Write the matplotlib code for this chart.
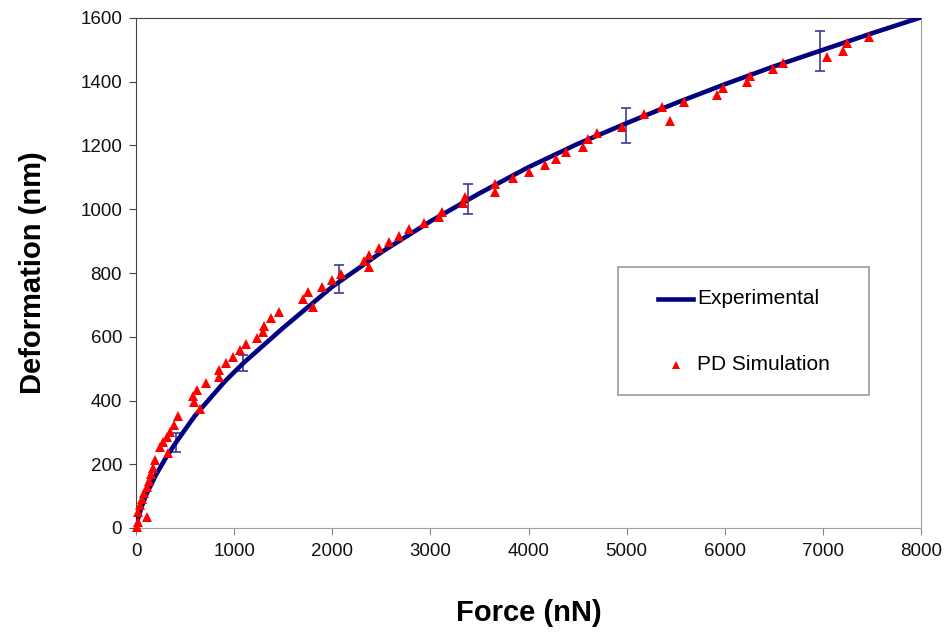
import matplotlib
matplotlib.use('Agg')
import matplotlib.pyplot as plt
from matplotlib.lines import Line2D
from matplotlib.patches import Rectangle

plt.rcParams['font.family'] = ['Liberation Sans', 'DejaVu Sans']

# experimental curve (force nN, deformation nm)
exp_force = [0, 20, 50, 100, 200, 300, 400, 600, 900, 1000, 1100, 1500, 2000,
             2500, 3000, 3500, 4000, 4500, 5000, 5500, 6000, 6500, 7000, 7500, 8000]
exp_def = [0, 28, 60, 102, 165, 218, 265, 352, 458, 489, 519, 628, 757,
           865, 962, 1050, 1132, 1205, 1270, 1333, 1392, 1448, 1500, 1552, 1602]

# error bars on the experimental curve
err_force = [0, 410, 1090, 2072, 3388, 4995, 6972]
err_def = [5, 268, 517, 781, 1031, 1264, 1496]
err_size = [10, 29, 26, 43, 47, 55, 63]

# PD simulation points
pd_force = [10, 17, 17, 109, 41, 61, 85, 109, 129, 153, 170, 197, 248, 278, 313,
            323, 350, 384, 425, 577, 594, 652, 622, 713, 849, 849, 917, 985, 1060,
            1121, 1230, 1291, 1308, 1376, 1457, 1699, 1756, 1800, 1892, 1994, 2086,
            2327, 2378, 2378, 2480, 2578, 2680, 2785, 2938, 3091, 3115, 3329, 3353,
            3658, 3658, 3845, 4008, 4168, 4280, 4382, 4558, 4609, 4695, 4950, 5177,
            5357, 5442, 5584, 5917, 5979, 6223, 6257, 6488, 6597, 7038, 7208, 7249,
            7470]
pd_def = [4, 20, 51, 36, 72, 90, 109, 130, 148, 168, 187, 213, 255, 271, 286,
          234, 302, 323, 351, 414, 396, 373, 433, 456, 475, 496, 517, 537, 558,
          576, 597, 614, 635, 658, 679, 718, 739, 694, 757, 778, 797,
          839, 818, 856, 877, 898, 916, 937, 958, 977, 990, 1019, 1037,
          1055, 1079, 1097, 1118, 1139, 1157, 1179, 1196, 1219, 1238, 1259, 1298,
          1320, 1278, 1337, 1358, 1379, 1398, 1419, 1439, 1458, 1477, 1497, 1520,
          1541]

W, H = 951, 639
fig = plt.figure(figsize=(W / 100, H / 100), dpi=100)
ax = fig.add_axes([136 / W, (H - 528) / H, (921 - 136) / W, (528 - 18) / H])

ax.errorbar(err_force, err_def, yerr=err_size, fmt='none', ecolor='#3b3b9c',
            elinewidth=1.2, capsize=3.5, capthick=1.2, zorder=2)
ax.plot(exp_force, exp_def, color='#000080', lw=3.3, solid_capstyle='butt', zorder=3)
ax.plot(pd_force, pd_def, linestyle='none', marker='^', color='#ff0000',
        markersize=7.5, markeredgewidth=0, zorder=4, clip_on=False)

ax.set_xlim(0, 8000)
ax.set_ylim(0, 1600)
ax.set_xticks(range(0, 8001, 1000))
ax.set_yticks(range(0, 1601, 200))

for s in ['left', 'top']:
    ax.spines[s].set_color('#444444')
for s in ['bottom', 'right']:
    ax.spines[s].set_color('#a0a0a0')
ax.tick_params(axis='x', direction='out', length=5, color='#888888',
               labelsize=13.5, pad=6, labelcolor='#111111')
ax.tick_params(axis='y', direction='out', length=5, color='#444444',
               labelsize=13.5, pad=5, labelcolor='#111111')

ax.set_xlabel('Force (nN)', fontsize=21, fontweight='bold', labelpad=28)
ax.set_ylabel('Deformation (nm)', fontsize=21, fontweight='bold', labelpad=24)

# legend box drawn by hand to match its size
fig.patches.append(Rectangle((618 / W, (H - 395) / H), (869 - 618) / W, (395 - 267) / H,
                             transform=fig.transFigure, facecolor='white',
                             edgecolor='#999999', lw=1.2, zorder=5))
fig.lines.append(Line2D([658 / W, 693 / W], [(H - 299) / H] * 2, transform=fig.transFigure,
                        color='#000080', lw=3.3, zorder=6))
fig.lines.append(Line2D([676 / W], [(H - 365) / H], transform=fig.transFigure,
                        marker='^', color='#ff0000', markersize=6, markeredgewidth=0,
                        linestyle='none', zorder=6))
fig.text(697 / W, (H - 299) / H, 'Experimental', fontsize=15, va='center', ha='left', zorder=6)
fig.text(697 / W, (H - 364) / H, 'PD Simulation', fontsize=15, va='center', ha='left', zorder=6)

fig.savefig('out.png', dpi=100)
